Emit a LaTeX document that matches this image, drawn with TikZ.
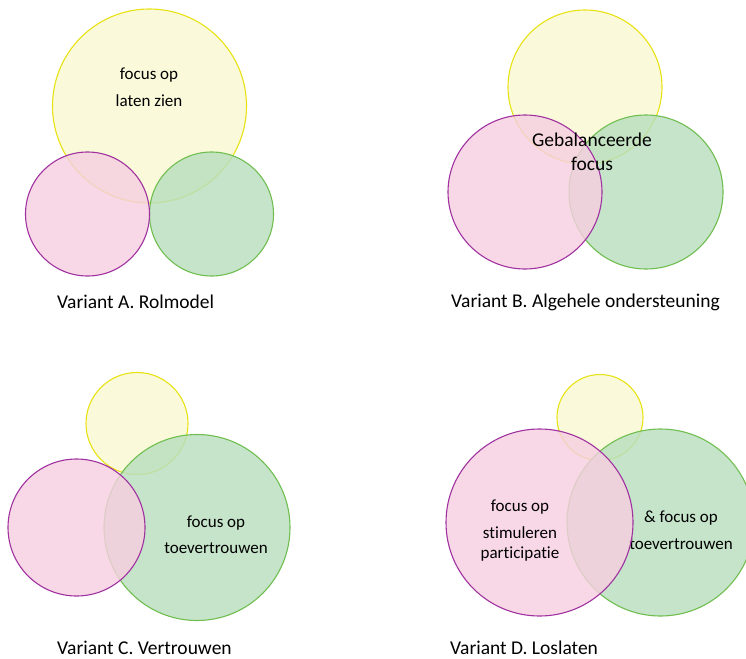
\documentclass[tikz,border=0pt]{standalone}
\usepackage{fontspec}
\setmainfont{Carlito}[Ligatures=NoCommon]
\definecolor{yfill}{RGB}{249,249,211}
\definecolor{yline}{RGB}{232,226,20}
\definecolor{pfill}{RGB}{246,207,224}
\definecolor{pline}{RGB}{160,50,160}
\definecolor{gfill}{RGB}{184,222,190}
\definecolor{gline}{RGB}{112,190,80}
\tikzset{
  ring/.style={circle, inner sep=0pt, line width=1.1pt, fill opacity=0.82},
  ylw/.style={ring, draw=yline, fill=yfill},
  pnk/.style={ring, draw=pline, fill=pfill},
  grn/.style={ring, draw=gline, fill=gfill},
  inner/.style={align=center, inner sep=0pt, font=\fontsize{17}{27}\selectfont},
  caption/.style={anchor=west, inner sep=0pt, font=\fontsize{19.5}{24}\selectfont}
}
\begin{document}
\begin{tikzpicture}[x=1pt, y=-1pt]
\clip (0,0) rectangle (746,658);
\useasboundingbox (0,0) rectangle (746,658);

% Variant A
\node[ylw, minimum size=194pt] (ay) at (149.5,106) {};
\node[grn, minimum size=124pt] (ag) at (211.5,214) {};
\node[pnk, minimum size=124pt] (ap) at (87.5,214) {};
\node[inner] (at) at (149,87) {focus op\\laten zien};
\node[caption] (al) at (57,302) {Variant A. Rolmodel};

% Variant B
\node[ylw, minimum size=154pt] (by) at (585,87) {};
\node[grn, minimum size=154pt] (bg) at (646,192) {};
\node[pnk, minimum size=154pt] (bp) at (525,192) {};
\node[inner, font=\fontsize{19.5}{24}\selectfont] (bt) at (592,152) {Gebalanceerde\\focus};
\node[caption] (bl) at (451,302) {Variant B. Algehele ondersteuning};

% Variant C
\node[ylw, minimum size=102pt] (cy) at (137,423.5) {};
\node[grn, minimum size=186pt] (cg) at (197,527.5) {};
\node[pnk, minimum size=137pt] (cp) at (76.5,527.5) {};
\node[inner, font=\fontsize{17}{26}\selectfont] (ct) at (216,535) {focus op\\toevertrouwen};
\node[caption] (cl) at (57,647.5) {Variant C. Vertrouwen};

% Variant D
\node[ylw, minimum size=86pt] (dy) at (600,417.5) {};
\node[grn, minimum size=187pt] (dg) at (660.5,522.5) {};
\node[inner] (dgt) at (681,530) {\& focus op\\toevertrouwen};
\node[pnk, minimum size=187pt] (dp) at (539.5,522.5) {};
\node[inner] (dpt1) at (520,507) {focus op};
\node[inner, font=\fontsize{17}{20}\selectfont] (dpt2) at (520,544) {stimuleren\\participatie};
\node[caption] (dl) at (450,647.5) {Variant D. Loslaten};
\end{tikzpicture}
\end{document}
